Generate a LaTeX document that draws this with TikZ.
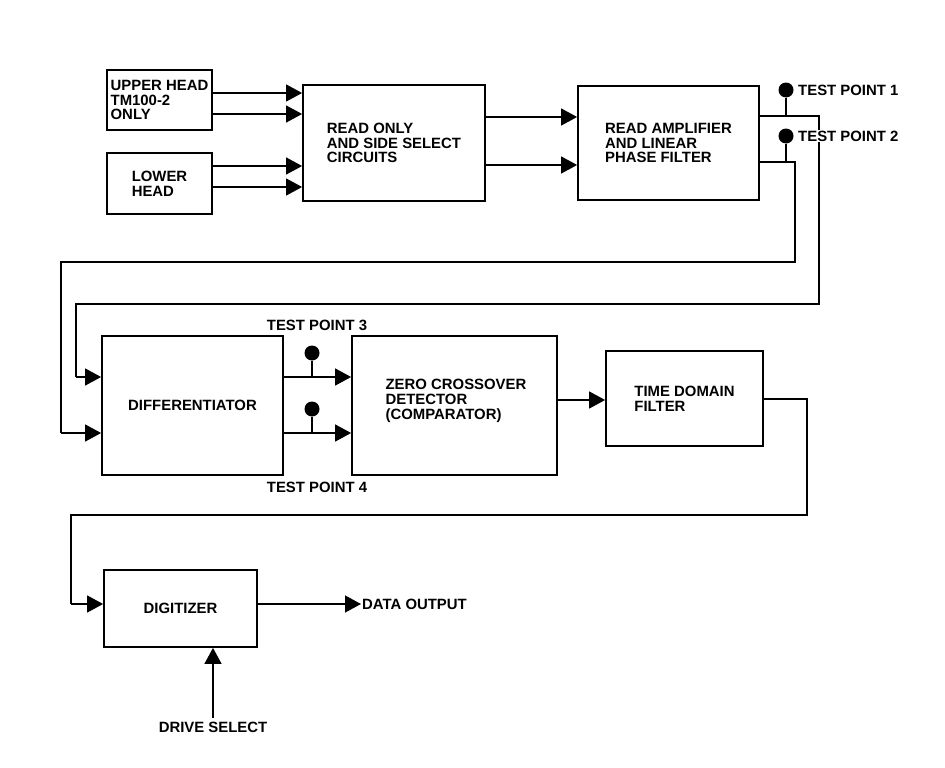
\documentclass[tikz,border=0pt]{standalone}
\usepackage{fontspec}
\setmainfont{Liberation Sans}
\usetikzlibrary{arrows.meta}
\begin{document}
\begin{tikzpicture}[x=1pt,y=-1pt,
  every node/.style={font=\bfseries\fontsize{14.9}{14.7}\selectfont},
  blk/.style={draw,line width=1.8pt,rectangle,align=left,inner sep=0pt},
  wire/.style={line width=1.4pt},
  arr/.style={wire,-{Triangle[length=16pt,width=17pt]}},
  tpdot/.style={circle,fill,inner sep=0pt,minimum size=15pt},
  lbl/.style={inner sep=1pt,align=left}]
\useasboundingbox (0,0) rectangle (945,768);
% blocks
\node[blk,minimum width=105pt,minimum height=60pt] (uh) at (159.5,100) {UPPER HEAD\\TM100-2\\ONLY};
\node[blk,minimum width=105pt,minimum height=61pt] (lh) at (159.5,183.5) {LOWER\\HEAD};
\node[blk,minimum width=182pt,minimum height=116pt] (ro) at (394,143) {READ ONLY\\AND SIDE SELECT\\CIRCUITS};
\node[blk,minimum width=181pt,minimum height=114pt] (ra) at (668.5,143) {READ AMPLIFIER\\AND LINEAR\\PHASE FILTER};
\node[blk,minimum width=181pt,minimum height=139pt] (dif) at (192.5,405.5) {DIFFERENTIATOR};
\node[blk,minimum width=205pt,minimum height=139pt] (zcd) at (454.5,405.5) {};
\node[lbl] (zcdt) at (456,401) {ZERO CROSSOVER\\DETECTOR\\(COMPARATOR)};
\node[blk,minimum width=157pt,minimum height=95pt] (tdf) at (684.5,398.5) {TIME DOMAIN\\FILTER};
\node[blk,minimum width=153pt,minimum height=77pt] (dig) at (180.5,608.5) {DIGITIZER};
% heads to read only
\draw[arr] (uh.east |- 0,93) -- (ro.west |- 0,93);
\draw[arr] (uh.east |- 0,114) -- (ro.west |- 0,114);
\draw[arr] (lh.east |- 0,166) -- (ro.west |- 0,166);
\draw[arr] (lh.east |- 0,187) -- (ro.west |- 0,187);
% read only to read amp
\draw[arr] (ro.east |- 0,117) -- (ra.west |- 0,117);
\draw[arr] (ro.east |- 0,165) -- (ra.west |- 0,165);
% test points 1 and 2
\node[tpdot] (tp1) at (786,90) {};
\node[tpdot] (tp2) at (786,136) {};
\coordinate (s1) at (786,116);
\coordinate (s2) at (786,162);
\draw[wire] (tp1) -- (s1);
\draw[wire] (tp2) -- (s2);
\draw[wire] (ra.east |- 0,116) -- (819,116) -- (819,304) -- (76,304) -- (76,377);
\draw[arr] (76,377) -- (dif.west |- 0,377);
\draw[wire] (ra.east |- 0,162) -- (795,162) -- (795,262) -- (61,262) -- (61,433);
\draw[arr] (61,433) -- (dif.west |- 0,433);
\node[lbl,anchor=west] (tp1l) at (797,90) {TEST POINT 1};
\node[lbl,anchor=west,fill=white] (tp2l) at (797,136) {TEST POINT 2};
% differentiator to zcd
\draw[arr] (dif.east |- 0,377) -- (zcd.west |- 0,377);
\draw[arr] (dif.east |- 0,433) -- (zcd.west |- 0,433);
\node[tpdot] (tp3) at (312,353) {};
\node[tpdot] (tp4) at (312,409) {};
\coordinate (s3) at (312,377);
\coordinate (s4) at (312,433);
\draw[wire] (tp3) -- (s3);
\draw[wire] (tp4) -- (s4);
\node[lbl] (tp3l) at (317,325) {TEST POINT 3};
\node[lbl] (tp4l) at (317,487) {TEST POINT 4};
% zcd to tdf
\draw[arr] (zcd.east |- 0,400) -- (tdf.west |- 0,400);
% tdf to digitizer
\draw[wire] (tdf.east |- 0,399) -- (807,399) -- (807,515) -- (71,515) -- (71,604);
\draw[arr] (71,604) -- (dig.west |- 0,604);
% data output
\node[lbl,anchor=west] (dout) at (361,604) {DATA OUTPUT};
\draw[arr] (dig.east |- 0,604) -- (dout.west);
% drive select
\node[lbl,inner sep=4pt] (ds) at (213,727) {DRIVE SELECT};
\draw[arr] (ds.north) -- (ds.north |- dig.south);
\end{tikzpicture}
\end{document}
